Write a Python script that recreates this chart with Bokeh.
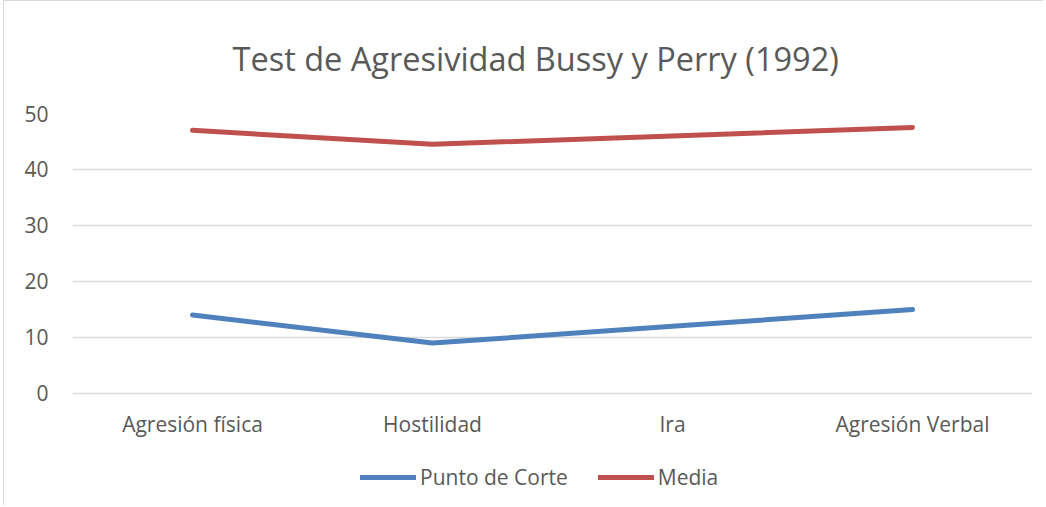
from bokeh.plotting import figure
from bokeh.models import Legend, LegendItem, FactorRange, Range1d
from bokeh.embed import file_html
from bokeh.resources import INLINE

categories = ["Agresión física", "Hostilidad", "Ira", "Agresión Verbal"]
punto_corte = [14, 9, 12, 15]
media = [47, 44.5, 46, 47.5]
y_ticks = [0, 10, 20, 30, 40, 50]

FONT = "Open Sans"
TXT = "#595959"

p = figure(width=1040, height=505, x_range=FactorRange(*categories, range_padding=0),
           y_range=Range1d(-20.18, 50), output_backend="svg", toolbar_location=None,
           min_border_left=68, min_border_right=12, min_border_top=112, min_border_bottom=0)
p.x_range.factor_padding = 0
p.title.text = "Test de Agresividad Bussy y Perry (1992)"
p.title.text_font = FONT
p.title.text_font_size = "32.5px"
p.title.text_font_style = "normal"
p.title.text_color = TXT
p.title.align = "left"
p.title.offset = 160
p.title.standoff = 65

p.outline_line_color = None
p.xgrid.grid_line_color = None
p.ygrid.grid_line_color = "#d9d9d9"
p.ygrid.grid_line_width = 1.5
p.yaxis.ticker = y_ticks
p.xaxis.fixed_location = 0

for ax in (p.xaxis, p.yaxis):
    ax.axis_line_color = None
    ax.major_tick_line_color = None
    ax.minor_tick_line_color = None
    ax.major_label_text_font = FONT
    ax.major_label_text_font_size = "21px"
    ax.major_label_text_color = TXT
p.yaxis.major_label_standoff = 18
p.xaxis.major_label_standoff = 11

r1 = p.line(categories, punto_corte, line_color="#4F81BD", line_width=5, line_cap="round", line_join="round")
r2 = p.line(categories, media, line_color="#C0504D", line_width=5, line_cap="round", line_join="round")

legend = Legend(items=[LegendItem(label="Punto de Corte", renderers=[r1]),
                       LegendItem(label="Media", renderers=[r2])],
                orientation="horizontal", location=(288, 15),
                glyph_width=56, glyph_height=20, label_standoff=4, spacing=30, padding=0, margin=0,
                label_text_font=FONT, label_text_font_size="21px", label_text_color=TXT,
                border_line_color=None, background_fill_alpha=0)
p.add_layout(legend, "center")

p.styles = {"margin-left": "3px",
            "border-top": "1.5px solid #d9d9d9", "border-left": "1.5px solid #d9d9d9"}

open("out.html", "w").write(file_html(p, INLINE))
